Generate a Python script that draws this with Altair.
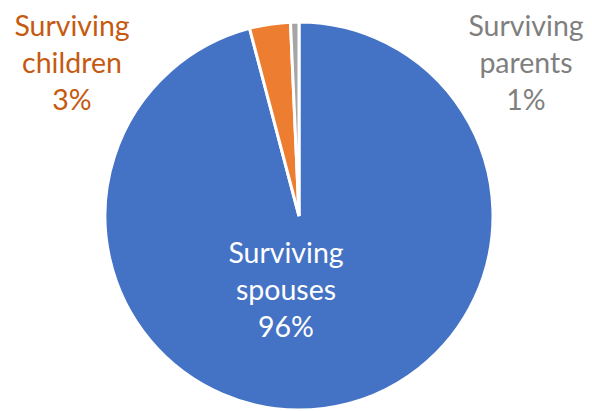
import altair as alt
import pandas as pd

categories = ["Surviving spouses", "Surviving children", "Surviving parents"]
values = [95.9, 3.4, 0.7]
pct_labels = ["96%", "3%", "1%"]
slice_colors = ["#4472C4", "#ED7D31", "#A5A5A5"]
text_colors = ["#FFFFFF", "#C55A11", "#7F7F7F"]

df = pd.DataFrame({
    "category": categories,
    "value": values,
    "idx": list(range(len(categories))),
    "label": [c.replace(" ", "\n") + "\n" + p for c, p in zip(categories, pct_labels)],
})

CX, CY, R = 291, 208, 194

pie = alt.Chart(df).mark_arc(radius=R, stroke="white", strokeWidth=3).encode(
    theta=alt.Theta("value:Q", stack=True),
    color=alt.Color("category:N", scale=alt.Scale(domain=categories, range=slice_colors), legend=None),
    order=alt.Order("idx:Q"),
    x=alt.value(CX),
    y=alt.value(CY),
)

label_pos = {
    "Surviving spouses": (278, 255),
    "Surviving children": (64, 28),
    "Surviving parents": (518, 28),
}

layers = [pie]
for cat, tc in zip(categories, text_colors):
    px, py = label_pos[cat]
    layers.append(
        alt.Chart(df).transform_filter(alt.datum.category == cat).mark_text(
            font="Lato", fontSize=28.5, lineBreak="\n", lineHeight=37,
            align="center", baseline="alphabetic", color=tc,
        ).encode(text="label:N", x=alt.value(px), y=alt.value(py))
    )

chart = alt.layer(*layers).properties(
    width=576, height=403, padding=0, autosize=alt.AutoSizeParams(type="none")
).configure_view(stroke=None)

chart.save("out.html", embed_options={"renderer": "svg", "actions": False})
